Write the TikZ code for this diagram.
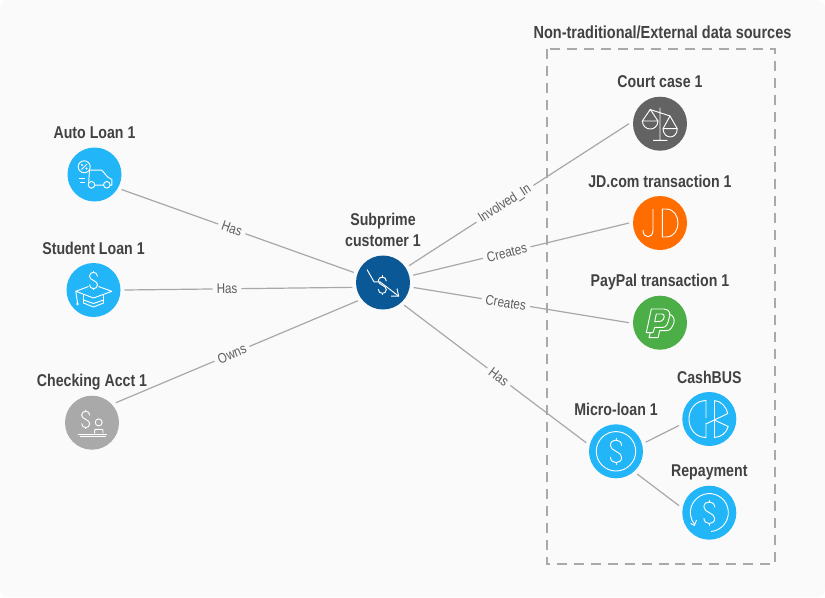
\documentclass[tikz,border=0pt]{standalone}
\usepackage{fontspec}
\setmainfont{Liberation Sans}[FakeStretch=0.83]
\definecolor{pagebg}{HTML}{FAFAFA}
\definecolor{loanblue}{HTML}{22B5F7}
\definecolor{subprimeblue}{HTML}{0B5896}
\definecolor{acctgrey}{HTML}{A9A9A9}
\definecolor{courtgrey}{HTML}{636363}
\definecolor{jdorange}{HTML}{FF6D00}
\definecolor{paypalgreen}{HTML}{4BAE46}
\definecolor{textgrey}{HTML}{424242}
\definecolor{edgegrey}{HTML}{A8A8A8}
\tikzset{
  main node/.style={circle,minimum size=40.5pt,inner sep=0pt,outer sep=3pt},
  main label/.style={font=\fontsize{12.8pt}{15.7pt}\selectfont\bfseries,text=textgrey,align=center,text depth=3.2pt,yshift=-3pt},
  sources label/.style={font=\fontsize{13.1pt}{15.7pt}\selectfont\bfseries,text=textgrey},
  edge line/.style={draw=edgegrey,line width=.9pt},
  edge label/.style={font=\fontsize{10.5pt}{12pt}\selectfont,text=textgrey!85,fill=pagebg,inner sep=3pt,sloped},
  icon line/.style={draw=white,line width=.7pt,line join=round},
  pics/dollar/.style={code={
    \draw[icon line] (4.5,-4.5) .. controls (4.5,-10.5) and (-4.5,-10.5) .. (-4.5,-4.8)
      .. controls (-4.5,0) and (4.5,0) .. (4.5,4.8) .. controls (4.5,10.5) and (-4.5,10.5) .. (-4.5,4.5);
    \draw[icon line] (0,-11) -- (0,-8.5) (0,8.5) -- (0,11);
  }}
}
\begin{document}
\begin{tikzpicture}[x=.75pt,y=-.75pt]
  \useasboundingbox (0,0) rectangle (825,597);
  \fill[pagebg,rounded corners=6pt] (0,0) rectangle (825,597);
  \draw[acctgrey,line width=1.5pt,dash pattern=on 7.5pt off 5.2pt] (547,49) rectangle (775,564);

  \node[sources label] (sources) at (662.5,32.5) {Non-traditional/External data sources};

  \node[main node,fill=loanblue,label={[main label]above:Auto Loan 1}] (auto) at (94.5,174.5) {};
  \node[main node,fill=loanblue,label={[main label]above:Student Loan 1}] (student) at (93.5,290) {};
  \node[main node,fill=acctgrey,label={[main label]above:Checking Acct 1}] (checking) at (92,422.7) {};
  \node[main node,fill=subprimeblue,label={[main label]above:Subprime\\customer 1}] (subprime) at (383,282.5) {};
  \node[main node,fill=courtgrey,label={[main label]above:Court case 1}] (court) at (660,123.7) {};
  \node[main node,fill=jdorange,label={[main label]above:JD.com transaction 1}] (jd) at (660,223) {};
  \node[main node,fill=paypalgreen,label={[main label]above:PayPal transaction 1}] (paypal) at (660,322.7) {};
  \node[main node,fill=loanblue,label={[main label]above:Micro-loan 1}] (micro) at (616,451.3) {};
  \node[main node,fill=loanblue,label={[main label]above:CashBUS}] (cashbus) at (709.3,419) {};
  \node[main node,fill=loanblue,label={[main label]above:Repayment}] (repayment) at (709.3,512.7) {};

  \path[edge line]
    (auto.-29) edge node[edge label,pos=.475] {Has} (subprime.161)
    (student.east) edge node[edge label,pos=.45] {Has} (subprime.189)
    (checking.40) edge node[edge label,pos=.48] {Owns} (subprime.216)
    (subprime) edge node[edge label,pos=.436] {Involved\_In} (court.west)
    (subprime) edge node[edge label,pos=.434] {Creates} (jd.west)
    (subprime) edge node[edge label,pos=.428] {Creates} (paypal.west)
    (subprime.-47) edge node[edge label,pos=.52] {Has} (micro.164)
    (micro.17) edge (cashbus.192)
    (micro.-47) edge (repayment.167);

  % auto loan
  \begin{scope}[shift={(auto)}]
    \draw[icon line] (-10.3,-7.7) circle (6);
    \draw[icon line] (-13,-5) -- (-7.5,-10.5);
    \fill[white] (-12.5,-9.5) circle (1.1) (-8,-6) circle (1.1);
    \draw[icon line] (-5,-4.3) -- (7.3,-4.3) -- (13,2.3) -- (17.3,5) -- (17.3,10.7) -- (15.6,10.7)
      (9,10.7) -- (0.3,10.7) (-6.3,10.7) -- (-6,10.7) -- (-5,-4.3);
    \draw[icon line] (-3,10.3) circle (3.3) (12.3,10.3) circle (3.3);
    \draw[icon line] (-16,4.3) -- (-9.3,4.3) (-14.3,8) -- (-9.3,8);
  \end{scope}
  % student loan
  \begin{scope}[shift={(student)}]
    \pic[scale=.9] at (0,-9.5) {dollar};
    \draw[icon line] (-5,-3.5) -- (-17.7,1.3) -- (0,8) -- (18.3,1.3) -- (5,-3.5);
    \draw[icon line] (-10,5) -- (-10,13) -- (0,17) -- (10,13) -- (10,5) (-10,10) -- (0,13.5) -- (10,10);
    \draw[icon line] (-17.7,1.3) -- (-16,13);
    \fill[white] (-16,14) circle (1.3);
  \end{scope}
  % checking account
  \begin{scope}[shift={(checking)}]
    \pic[scale=.9] at (-6.3,-3.3) {dollar};
    \draw[icon line] (6.7,-.3) circle (3.5);
    \draw[icon line] (2.7,10.7) -- (2.7,7.5) -- (3.5,6.7) -- (10,6.7) -- (11,7.5) -- (11,10.7);
    \draw[icon line] (-14,12) -- (15,12) (-12.3,14) -- (13.7,14);
  \end{scope}
  % subprime customer
  \begin{scope}[shift={(subprime)}]
    \pic[scale=.9] at (-.7,2.7) {dollar};
    \draw[icon line] (-16,-13) -- (-9,-.7) -- (-3,-.7) -- (15.7,13.7);
    \draw[icon line] (8,13.7) -- (15.7,13.7) -- (14,6);
  \end{scope}
  % court case
  \begin{scope}[shift={(court)}]
    \draw[icon line] (0,-16) -- (0,16.7) (-7,16.7) -- (7.3,16.7) (-10.3,-14.3) -- (10.3,-7.7);
    \draw[icon line] (-17.7,-2.7) -- (-9.7,-14.3) -- (-2,-2.7) -- cycle;
    \draw[icon line] (-17.7,-2.7) .. controls (-17,8) and (-2.5,8) .. (-2,-2.7);
    \draw[icon line] (3,5) -- (10,-7.7) -- (17.3,5) -- cycle;
    \draw[icon line] (3,5) .. controls (3.5,16) and (17,16) .. (17.3,5);
  \end{scope}
  % jd.com
  \begin{scope}[shift={(jd)}]
    \draw[icon line] (-7,-14) -- (-7,7) .. controls (-7,16) and (-17,16) .. (-17,7);
    \draw[icon line] (2.3,-14) -- (6,-14) .. controls (22,-14) and (22,14) .. (6,14) -- (2.3,14) -- cycle;
  \end{scope}
  % paypal
  \begin{scope}[shift={(paypal)}]
    \draw[icon line] (-8.7,-13.7) -- (4,-13.7) .. controls (10,-13.7) and (11,-8) .. (9,-4.3)
      .. controls (8,1) and (6,4.7) .. (3,4.7) -- (-5.3,4.7) -- (-7,10) -- (-13.7,10) -- cycle;
    \draw[icon line] (-3.7,-8.7) -- (2.3,-8.7) .. controls (5,-8.7) and (5,-3) .. (1,-1.5) -- (-5.3,-1) -- cycle;
    \draw[icon line] (9,-8.7) .. controls (14,-7) and (15,-3) .. (13.7,.7)
      .. controls (12,5) and (10,8) .. (6.3,8) -- (-.3,8) -- (-2,15) -- (-11,15) -- (-9.8,10);
  \end{scope}
  % micro-loan
  \begin{scope}[shift={(micro)}]
    \draw[icon line] (0,0) circle (19.7);
    \pic[scale=1.25] at (0,0) {dollar};
  \end{scope}
  % cashbus
  \begin{scope}[shift={(cashbus)}]
    \draw[icon line] (-3.3,-1) -- (-3.3,-18.5) .. controls (-26,-18) and (-26,18) .. (-3.3,18.5) -- (-3.3,3.7);
    \draw[icon line] (5,-18.5) -- (5,18.5);
    \draw[icon line] (5,-18.5) .. controls (12,-18) and (17,-12) .. (18.5,-5.5) -- (-3.3,5);
    \draw[icon line] (5,1) -- (19,7.5) .. controls (17,14) and (12,18) .. (5,18.5);
  \end{scope}
  % repayment
  \begin{scope}[shift={(repayment)}]
    \pic[scale=1.2] at (0,0) {dollar};
    \draw[icon line] (1.7,18.8) arc[start angle=85,end angle=-219,radius=19];
    \draw[icon line] (-18.7,10.7) -- (-15,12.7) -- (-12.7,7.3);
  \end{scope}
\end{tikzpicture}
\end{document}
